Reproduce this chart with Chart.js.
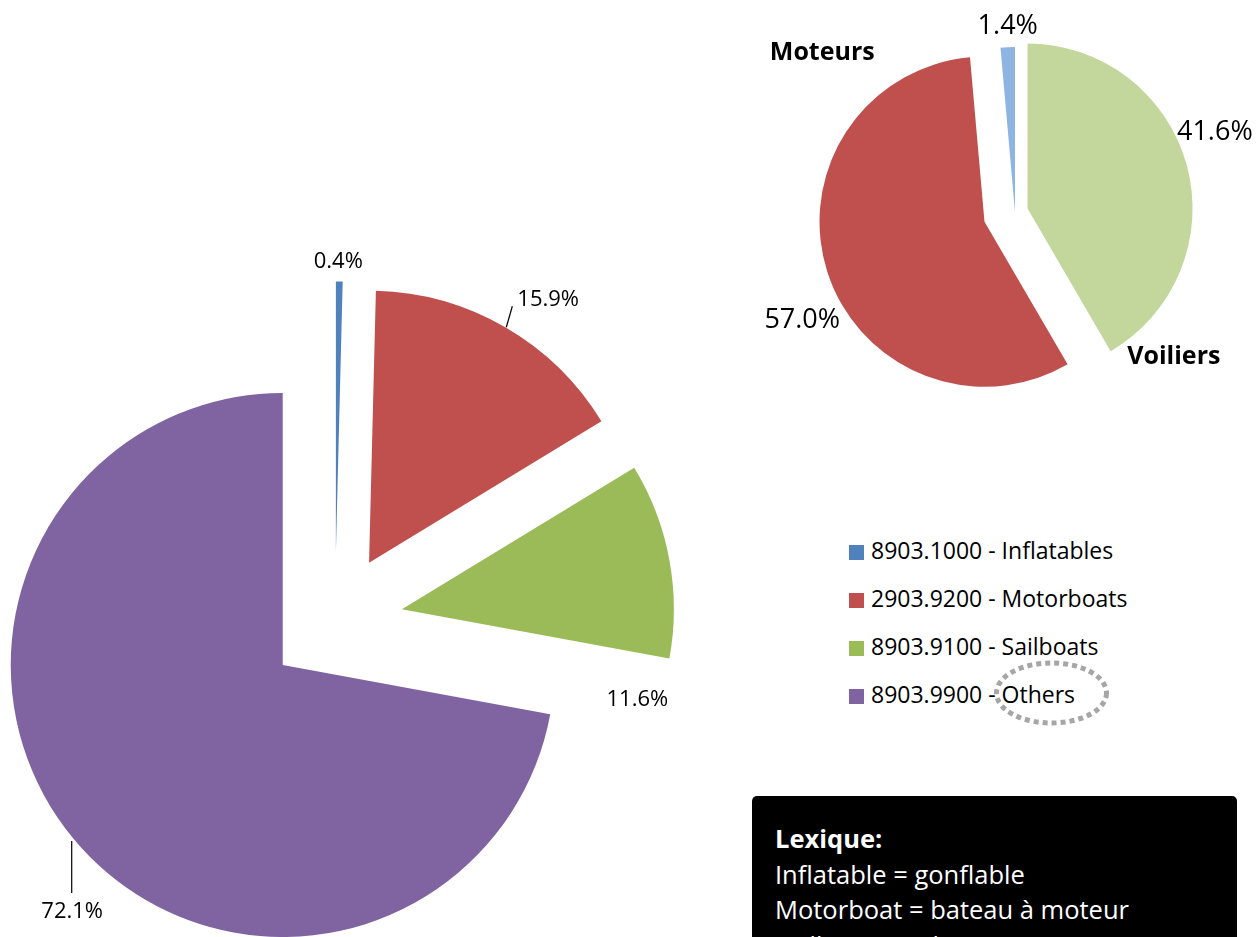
<!DOCTYPE html>
<html>
<head>
<meta charset="utf-8">
<script src="https://cdn.jsdelivr.net/npm/chart.js@4/dist/chart.umd.min.js"></script>
<style>
  html, body { margin:0; padding:0; background:#fff; }
  body { width:1259px; height:937px; overflow:hidden; position:relative; font-family:"Open Sans", "Noto Sans", sans-serif; }
  canvas { position:absolute; }
  #bigPie { left:0; top:0; }
  #smallPie { left:730px; top:0; }
  .leg { position:absolute; left:849px; height:36px; line-height:36px; font-size:23px; color:#000; white-space:nowrap; }
  .leg i { display:inline-block; width:15px; height:15px; margin-right:7px; vertical-align:-1px; }
  #lexique { position:absolute; left:752px; top:796px; width:485px; height:220px; background:#000; border-radius:5px;
    color:#fff; font-size:25.5px; line-height:35.5px; padding:25px 0 0 23px; box-sizing:border-box; }
  #lexique b { font-weight:bold; }
  svg { position:absolute; left:0; top:0; }
</style>
</head>
<body>
<canvas id="bigPie" width="760" height="937"></canvas>
<canvas id="smallPie" width="529" height="420"></canvas>
<div id="legend"></div>
<svg width="1259" height="937"><ellipse cx="1051.5" cy="693" rx="55" ry="30" fill="none" stroke="#A6A6A6" stroke-width="5" stroke-dasharray="5 4"/></svg>
<div id="lexique"><b>Lexique:</b><br>Inflatable = gonflable<br>Motorboat = bateau à moteur<br>Sailboat = voilier</div>
<script>
// main pie: share by HS code
const bigLabels = ['8903.1000 - Inflatables', '2903.9200 - Motorboats', '8903.9100 - Sailboats', '8903.9900 - Others'];
const bigValues = [0.4, 15.9, 11.6, 72.1];
const bigColors = ['#4F81BD', '#C0504D', '#9BBB59', '#8064A2'];

// small pie: without "Others"
const smallLabels = ['Voiliers', 'Moteurs', ''];
const smallValues = [41.6, 57.0, 1.4];
const smallColors = ['#C3D69B', '#C0504D', '#8DB4E2'];

// how far each slice is pulled out (px)
const bigExplode = [68, 68, 68, 68];
const smallExplode = [13, 32, 0];

// label placement relative to the middle of each slice's outer edge
const bigPlace = [
  { dx:-1, dy:-21, align:'center' },
  { dx:12, dy:-29, align:'left', lead:[1, 0, 7, -21] },
  { dx:-32, dy:138, align:'center' },
  { dx:-1.5, dy:71, align:'center', lead:[-2, 2, -2, 54] }
];
const smallPlace = [
  { dx:28, dy:-35, align:'center', name:{ dx:-13, dy:189 } },
  { dx:-25, dy:47, align:'center', name:{ dx:-5, dy:-221 } },
  { dx:0, dy:-23, align:'center' }
];

const FONT = '"Open Sans", "Noto Sans", sans-serif';

// move arcs outward along their mid angle after chart.js lays them out
const explodePlugin = {
  id: 'explode',
  afterDatasetUpdate(chart, args){
    const ex = chart.data.datasets[args.index].explode || [];
    args.meta.data.forEach((arc, i) => {
      const d = ex[i] || 0;
      const mid = (arc.startAngle + arc.endAngle) / 2;
      arc.x += Math.cos(mid) * d;
      arc.y += Math.sin(mid) * d;
    });
  }
};

function labelPlugin(place, size, nameSize){
  return {
    id: 'sliceLabels',
    afterDatasetsDraw(chart){
      const ctx = chart.ctx;
      const ds = chart.data.datasets[0];
      const labels = chart.data.labels;
      ctx.save();
      ctx.fillStyle = '#000';
      ctx.strokeStyle = '#000';
      ctx.lineWidth = 1.2;
      chart.getDatasetMeta(0).data.forEach((arc, i) => {
        const p = place[i];
        const mid = (arc.startAngle + arc.endAngle) / 2;
        const px = arc.x + Math.cos(mid) * arc.outerRadius;
        const py = arc.y + Math.sin(mid) * arc.outerRadius;
        if(p.lead){
          ctx.beginPath();
          ctx.moveTo(px + p.lead[0], py + p.lead[1]);
          ctx.lineTo(px + p.lead[2], py + p.lead[3]);
          ctx.stroke();
        }
        ctx.font = size + 'px ' + FONT;
        ctx.textAlign = p.align;
        ctx.textBaseline = 'alphabetic';
        ctx.fillText(ds.data[i].toFixed(1) + '%', px + p.dx, py + p.dy + size * 0.36);
        if(p.name && labels[i]){
          ctx.font = 'bold ' + nameSize + 'px ' + FONT;
          ctx.textAlign = 'center';
          ctx.fillText(labels[i], px + p.name.dx, py + p.name.dy + nameSize * 0.36);
        }
      });
      ctx.restore();
    }
  };
}

const common = {
  responsive:false, animation:false, events:[],
  plugins:{ legend:{ display:false }, tooltip:{ enabled:false } }
};

new Chart(document.getElementById('bigPie'), {
  type:'pie',
  data:{ labels:bigLabels, datasets:[{ data:bigValues, backgroundColor:bigColors, borderWidth:0, explode:bigExplode }] },
  options:Object.assign({}, common, { radius:272, clip:false, layout:{ padding:{ left:0, right:90, top:306, bottom:0 } } }),
  plugins:[explodePlugin, labelPlugin(bigPlace, 22, 22)]
});

new Chart(document.getElementById('smallPie'), {
  type:'pie',
  data:{ labels:smallLabels, datasets:[{ data:smallValues, backgroundColor:smallColors, borderWidth:0, explode:smallExplode }] },
  options:Object.assign({}, common, { radius:165, clip:false, layout:{ padding:{ left:41, right:0, top:4, bottom:0 } } }),
  plugins:[explodePlugin, labelPlugin(smallPlace, 27, 25)]
});

// legend for the main pie
const legRows = [550, 598, 646, 694];
const legend = document.getElementById('legend');
bigLabels.forEach((lab, i) => {
  const row = document.createElement('div');
  row.className = 'leg';
  row.style.top = (legRows[i] - 18) + 'px';
  row.innerHTML = '<i style="background:' + bigColors[i] + '"></i>' + lab;
  legend.appendChild(row);
});
</script>
</body>
</html>
